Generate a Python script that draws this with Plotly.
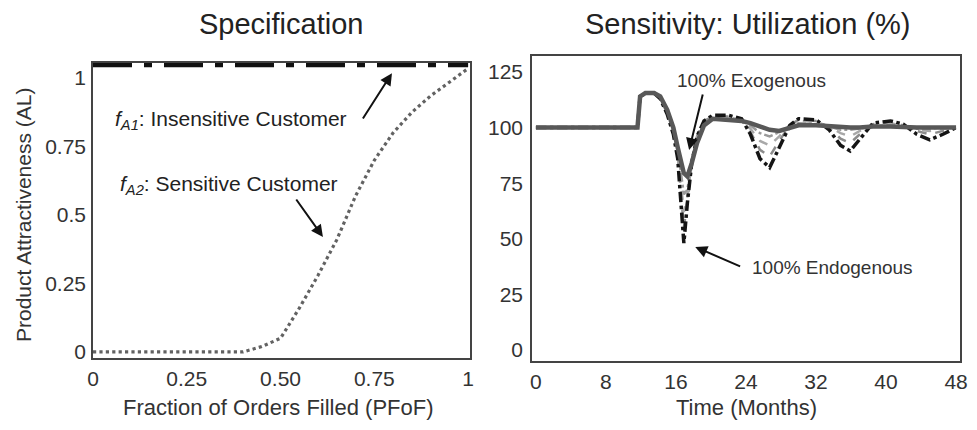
import plotly.graph_objects as go

# ---------------- data ----------------
# Left panel: specification curves
pfof_insensitive = [0.0, 1.0]
al_insensitive = [1.05, 1.05]

pfof_sensitive = [0.0, 0.40, 0.45, 0.50, 0.55, 0.60, 0.65, 0.70, 0.75, 0.80, 0.85, 0.90, 0.95, 1.0]
al_sensitive = [0.0, 0.0, 0.02, 0.05, 0.16, 0.28, 0.41, 0.57, 0.70, 0.80, 0.875, 0.935, 0.985, 1.035]

x_tickvals_left = [0, 0.25, 0.5, 0.75, 1]
x_ticktext_left = ["0", "0.25", "0.50", "0.75", "1"]
y_tickvals_left = [0, 0.25, 0.5, 0.75, 1]
y_ticktext_left = ["0", "0.25", "0.5", "0.75", "1"]

# Right panel: utilization sensitivity (months)
months = [0, 11.6, 11.9, 12.5, 13.5, 14.2, 15.0, 15.7, 16.2, 16.6, 16.9, 17.3, 17.8, 18.4,
          19.2, 20.2, 22.0, 23.5, 24.5, 25.6, 26.7, 27.8, 29.0, 30.0, 32.0, 33.5, 34.8,
          35.9, 37.0, 38.5, 40.5, 42.0, 43.5, 45.0, 46.5, 48.0]
util_endogenous = [100, 100, 114, 115.5, 115.5, 113, 106, 97, 86, 66, 48, 66, 84, 96,
                   103, 105.5, 105.5, 104, 97, 86, 82, 91, 101, 104, 103.5, 99, 92,
                   89.5, 95, 102, 103, 101.5, 97, 94.5, 97, 100]
util_mix25 = [100, 100, 114, 115.5, 115.5, 113, 106.5, 98.5, 88, 70, 55, 67, 84, 96,
              103, 105, 105, 103.5, 98, 90, 87, 94, 101, 103.5, 103, 100, 95,
              93, 97, 101.5, 102.5, 101, 98.5, 97, 98.5, 100]
util_mix50 = [100, 100, 114, 115.5, 115.5, 113.5, 107, 99, 89, 74, 62, 69, 85, 95.5,
              102.5, 104.5, 104.5, 103.5, 99.5, 94, 92, 96, 101, 103, 102.5, 100.5, 97.5,
              96, 98.5, 101, 102, 100.5, 99, 98.5, 99.5, 100]
util_mix75 = [100, 100, 114, 115.5, 115.5, 113.5, 107.5, 99.5, 90, 78, 70, 72, 85, 95,
              102, 104, 104, 103, 101, 97.5, 96, 98, 100.5, 102, 101.5, 100.5, 99,
              99, 99.5, 100.5, 101, 100.5, 99.5, 99.5, 100, 100]
util_exogenous = [100, 100, 114, 115.5, 115.5, 114, 108, 100, 91, 84, 79.5, 78, 84, 93,
                  101, 104, 103.5, 103, 102, 100.5, 99, 98.5, 100, 101, 101, 100.5, 100,
                  100, 100, 100.5, 100.5, 100, 100, 100, 100, 100]

x_tickvals_right = [0, 8, 16, 24, 32, 40, 48]
y_tickvals_right = [0, 25, 50, 75, 100, 125]

# ---------------- figure ----------------
W, H = 977, 430
FONT = "Liberation Sans, Arial, sans-serif"
TXT = "#333333"

fig = go.Figure()

fig.add_trace(go.Scatter(x=pfof_sensitive, y=al_sensitive, mode="lines",
                         line=dict(color="#626262", width=3.2, dash="dot"),
                         xaxis="x", yaxis="y", showlegend=False, cliponaxis=False))
fig.add_trace(go.Scatter(x=pfof_insensitive, y=al_insensitive, mode="lines",
                         line=dict(color="#111111", width=6, dash="39px,12px,8px,12px"),
                         xaxis="x", yaxis="y", showlegend=False, cliponaxis=False))

series = [
    (util_mix25, "#8c8c8c", 2.5, "dash"),
    (util_mix50, "#a8a8a8", 2.5, "dash"),
    (util_mix75, "#9a9a9a", 2.5, "dashdot"),
    (util_endogenous, "#151515", 3.5, "dashdot"),
    (util_exogenous, "#585858", 4.5, "solid"),
]
for vals, col, wd, ds in series:
    fig.add_trace(go.Scatter(x=months, y=vals, mode="lines",
                             line=dict(color=col, width=wd, dash=ds, shape="linear"),
                             xaxis="x2", yaxis="y2", showlegend=False))

axis_common = dict(showgrid=False, zeroline=False, showline=True, mirror=True,
                   linecolor="#444444", linewidth=1.5, ticks="",
                   tickfont=dict(family=FONT, size=21, color=TXT), automargin=False)

def px2x(p):
    return p / W

def px2y(p):
    return 1 - p / H

fig.update_layout(
    width=W, height=H,
    margin=dict(l=0, r=0, t=0, b=0),
    paper_bgcolor="white", plot_bgcolor="white",
    xaxis=dict(domain=[px2x(93), px2x(470)], range=[0, 1.005],
               tickvals=x_tickvals_left, ticktext=x_ticktext_left,
               ticklabelstandoff=1, anchor="y", **axis_common),
    yaxis=dict(domain=[px2y(358), px2y(63)], range=[-0.022, 1.055],
               tickvals=y_tickvals_left, ticktext=y_ticktext_left,
               ticklabelstandoff=1, anchor="x", **axis_common),
    xaxis2=dict(domain=[px2x(532), px2x(960)], range=[-0.45, 48.45],
                tickvals=x_tickvals_right,
                ticklabelstandoff=1, anchor="y2", **axis_common),
    yaxis2=dict(domain=[px2y(361), px2y(56)], range=[-5, 132.2],
                tickvals=y_tickvals_right,
                ticklabelstandoff=3, anchor="x2", **axis_common),
)

ann = []
# titles
ann.append(dict(text="Specification", x=px2x(281), y=px2y(24), xref="paper", yref="paper",
                showarrow=False, font=dict(family=FONT, size=29, color="#222222"),
                xanchor="center", yanchor="middle"))
ann.append(dict(text="Sensitivity: Utilization (%)", x=px2x(748), y=px2y(24), xref="paper", yref="paper",
                showarrow=False, font=dict(family=FONT, size=29, color="#222222"),
                xanchor="center", yanchor="middle"))
# axis titles
ann.append(dict(text="Fraction of Orders Filled (PFoF)", x=px2x(278), y=px2y(407), xref="paper", yref="paper",
                showarrow=False, font=dict(family=FONT, size=22, color=TXT),
                xanchor="center", yanchor="middle"))
ann.append(dict(text="Time (Months)", x=px2x(746), y=px2y(407), xref="paper", yref="paper",
                showarrow=False, font=dict(family=FONT, size=22, color=TXT),
                xanchor="center", yanchor="middle"))
ann.append(dict(text="Product Attractiveness (AL)", x=px2x(23), y=px2y(215), xref="paper", yref="paper",
                showarrow=False, textangle=-90, font=dict(family=FONT, size=21, color=TXT),
                xanchor="center", yanchor="middle"))

# left panel labels
ann.append(dict(text="<i>f</i><sub><i>A1</i></sub>: Insensitive Customer", x=0.053, y=0.847,
                xref="x", yref="y", showarrow=False, xanchor="left", yanchor="middle",
                font=dict(family=FONT, size=21, color="#222222")))
ann.append(dict(text="", x=0.797, y=1.018, ax=0.717, ay=0.847, xref="x", yref="y",
                axref="x", ayref="y", showarrow=True, arrowhead=2, arrowsize=1.2,
                arrowwidth=2, arrowcolor="#111111"))
ann.append(dict(text="<i>f</i><sub><i>A2</i></sub>: Sensitive Customer", x=0.067, y=0.609,
                xref="x", yref="y", showarrow=False, xanchor="left", yanchor="middle",
                font=dict(family=FONT, size=21, color="#222222")))
ann.append(dict(text="", x=0.613, y=0.42, ax=0.539, ay=0.562, xref="x", yref="y",
                axref="x", ayref="y", showarrow=True, arrowhead=2, arrowsize=1.2,
                arrowwidth=2, arrowcolor="#111111"))

# right panel labels
ann.append(dict(text="100% Exogenous", x=15.9, y=121.4, xref="x2", yref="y2",
                showarrow=False, xanchor="left", yanchor="middle",
                font=dict(family=FONT, size=19, color=TXT)))
ann.append(dict(text="", x=17.5, y=89.9, ax=19.1, ay=115.6, xref="x2", yref="y2",
                axref="x2", ayref="y2", showarrow=True, arrowhead=2, arrowsize=1.2,
                arrowwidth=2, arrowcolor="#111111"))
ann.append(dict(text="100% Endogenous", x=24.5, y=36.9, xref="x2", yref="y2",
                showarrow=False, xanchor="left", yanchor="middle",
                font=dict(family=FONT, size=19, color=TXT)))
ann.append(dict(text="", x=18.2, y=46.3, ax=23.5, ay=37.3, xref="x2", yref="y2",
                axref="x2", ayref="y2", showarrow=True, arrowhead=2, arrowsize=1.2,
                arrowwidth=2, arrowcolor="#111111"))

fig.update_layout(annotations=ann)
fig.write_html("out.html",
               config={"displayModeBar": False},
               post_script="document.body.style.margin='0px';document.body.style.padding='0px';")
